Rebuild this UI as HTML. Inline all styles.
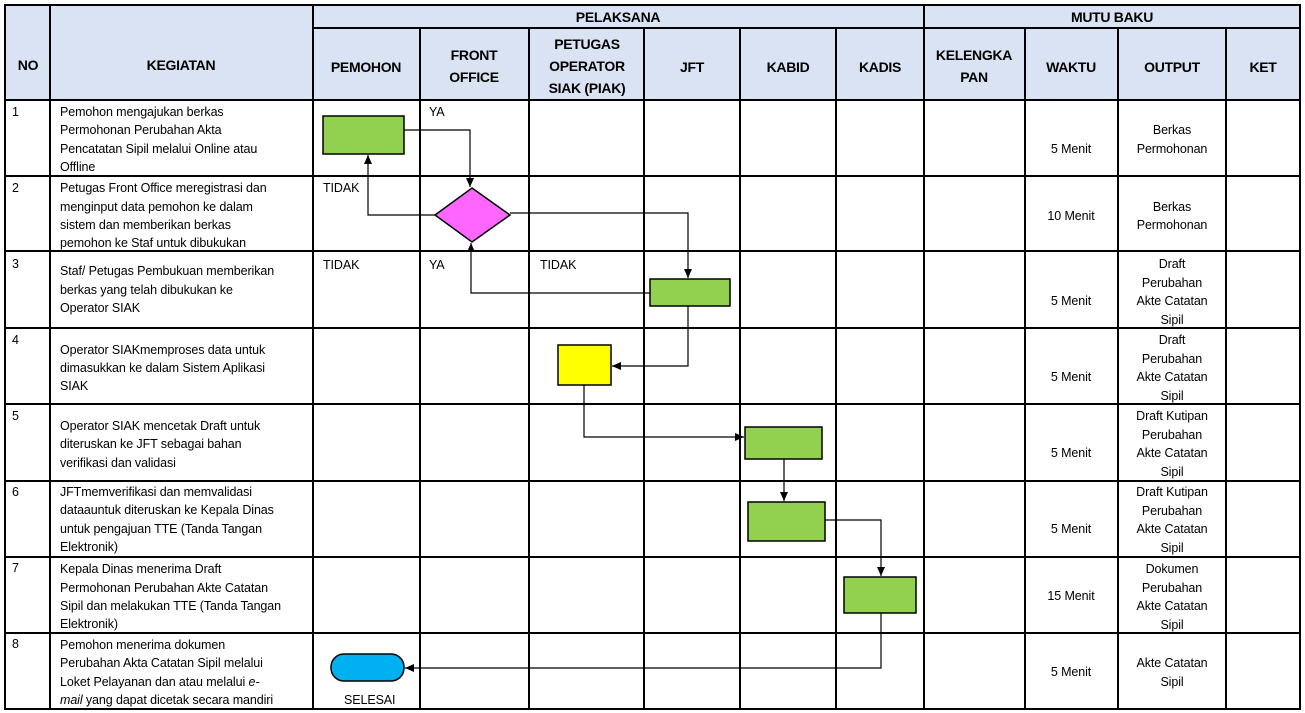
<!DOCTYPE html>
<html><head><meta charset="utf-8"><style>
html,body{margin:0;padding:0;background:#fff;}
svg{display:block;font-family:"Liberation Sans",sans-serif;}
.t{font-size:12.5px;fill:#000;letter-spacing:-0.1px;}
.h{font-size:14px;font-weight:bold;fill:#000;text-anchor:middle;letter-spacing:-0.3px;}
.c{text-anchor:middle;}
</style></head><body>
<svg width="1305" height="713" viewBox="0 0 1305 713" xmlns="http://www.w3.org/2000/svg">
<defs><marker id="a" markerWidth="10" markerHeight="10" refX="9" refY="5" orient="auto" markerUnits="userSpaceOnUse"><path d="M0,1 L9,5 L0,9 z" fill="#000"/></marker></defs>
<rect x="5" y="5" width="1295" height="95" fill="#dae3f3"/>
<g stroke="#000" stroke-width="2" fill="none">
<rect x="5" y="5" width="1295" height="704"/>
<line x1="313" y1="28" x2="1300" y2="28"/>
<g>
<line x1="50" y1="5" x2="50" y2="709"/><line x1="313" y1="5" x2="313" y2="709"/>
<line x1="420" y1="28" x2="420" y2="709"/><line x1="529" y1="28" x2="529" y2="709"/>
<line x1="644" y1="28" x2="644" y2="709"/><line x1="740" y1="28" x2="740" y2="709"/>
<line x1="836" y1="28" x2="836" y2="709"/><line x1="924" y1="5" x2="924" y2="709"/>
<line x1="1025" y1="28" x2="1025" y2="709"/><line x1="1118" y1="28" x2="1118" y2="709"/>
<line x1="1226" y1="28" x2="1226" y2="709"/>
</g>
<line x1="5" y1="100" x2="1300" y2="100"/><line x1="5" y1="176" x2="1300" y2="176"/>
<line x1="5" y1="251" x2="1300" y2="251"/><line x1="5" y1="328" x2="1300" y2="328"/>
<line x1="5" y1="404" x2="1300" y2="404"/><line x1="5" y1="481" x2="1300" y2="481"/>
<line x1="5" y1="557" x2="1300" y2="557"/><line x1="5" y1="633" x2="1300" y2="633"/>
</g>
<text class="h" x="618" y="22">PELAKSANA</text>
<text class="h" x="1112" y="22">MUTU BAKU</text>
<text class="h" x="28" y="70">NO</text>
<text class="h" x="181" y="70">KEGIATAN</text>
<text class="h" x="366" y="72">PEMOHON</text>
<text class="h" x="474" y="60">FRONT</text><text class="h" x="474" y="82">OFFICE</text>
<text class="h" x="587" y="49">PETUGAS</text><text class="h" x="587" y="71">OPERATOR</text><text class="h" x="587" y="93">SIAK (PIAK)</text>
<text class="h" x="692" y="72">JFT</text>
<text class="h" x="788" y="72">KABID</text>
<text class="h" x="880" y="72">KADIS</text>
<text class="h" x="974" y="60">KELENGKA</text><text class="h" x="974" y="82">PAN</text>
<text class="h" x="1071" y="72">WAKTU</text>
<text class="h" x="1172" y="72">OUTPUT</text>
<text class="h" x="1263" y="72">KET</text>
<g class="t">
<text x="12" y="116">1</text><text x="12" y="192">2</text><text x="12" y="268">3</text><text x="12" y="344">4</text>
<text x="12" y="420">5</text><text x="12" y="496">6</text><text x="12" y="572">7</text><text x="12" y="648">8</text>
<text x="60" y="116">Pemohon mengajukan berkas</text><text x="60" y="134">Permohonan Perubahan Akta</text><text x="60" y="153">Pencatatan Sipil melalui Online atau</text><text x="60" y="171">Offline</text>
<text x="60" y="192">Petugas Front Office meregistrasi dan</text><text x="60" y="211">menginput data pemohon ke dalam</text><text x="60" y="229">sistem dan memberikan berkas</text><text x="60" y="247">pemohon ke Staf untuk dibukukan</text>
<text x="60" y="275">Staf/ Petugas Pembukuan memberikan</text><text x="60" y="294">berkas yang telah dibukukan ke</text><text x="60" y="312">Operator SIAK</text>
<text x="60" y="354">Operator SIAKmemproses data untuk</text><text x="60" y="372">dimasukkan ke dalam Sistem Aplikasi</text><text x="60" y="390">SIAK</text>
<text x="60" y="430">Operator SIAK mencetak Draft untuk</text><text x="60" y="448">diteruskan ke JFT sebagai bahan</text><text x="60" y="467">verifikasi dan validasi</text>
<text x="60" y="496">JFTmemverifikasi dan memvalidasi</text><text x="60" y="514">dataauntuk diteruskan ke Kepala Dinas</text><text x="60" y="533">untuk pengajuan TTE (Tanda Tangan</text><text x="60" y="551">Elektronik)</text>
<text x="60" y="573">Kepala Dinas menerima Draft</text><text x="60" y="592">Permohonan Perubahan Akte Catatan</text><text x="60" y="610">Sipil dan melakukan TTE (Tanda Tangan</text><text x="60" y="628">Elektronik)</text>
<text x="60" y="649">Pemohon menerima dokumen</text><text x="60" y="667">Perubahan Akta Catatan Sipil melalui</text><text x="60" y="686">Loket Pelayanan dan atau melalui <tspan font-style="italic">e-</tspan></text><text x="60" y="704"><tspan font-style="italic">mail</tspan> yang dapat dicetak secara mandiri</text>
<text x="429" y="116">YA</text>
<text x="323" y="192">TIDAK</text><text x="323" y="269">TIDAK</text><text x="429" y="269">YA</text><text x="540" y="269">TIDAK</text>
<text x="344" y="704">SELESAI</text>
</g>
<g class="t c">
<text x="1071" y="153">5 Menit</text><text x="1071" y="220">10 Menit</text><text x="1071" y="305">5 Menit</text><text x="1071" y="381">5 Menit</text>
<text x="1071" y="457">5 Menit</text><text x="1071" y="533">5 Menit</text><text x="1071" y="600">15 Menit</text><text x="1071" y="676">5 Menit</text>
<text x="1172" y="134">Berkas</text><text x="1172" y="153">Permohonan</text>
<text x="1172" y="211">Berkas</text><text x="1172" y="229">Permohonan</text>
<text x="1172" y="268">Draft</text><text x="1172" y="287">Perubahan</text><text x="1172" y="305">Akte Catatan</text><text x="1172" y="324">Sipil</text>
<text x="1172" y="344">Draft</text><text x="1172" y="363">Perubahan</text><text x="1172" y="381">Akte Catatan</text><text x="1172" y="400">Sipil</text>
<text x="1172" y="420">Draft Kutipan</text><text x="1172" y="439">Perubahan</text><text x="1172" y="457">Akte Catatan</text><text x="1172" y="476">Sipil</text>
<text x="1172" y="496">Draft Kutipan</text><text x="1172" y="515">Perubahan</text><text x="1172" y="533">Akte Catatan</text><text x="1172" y="552">Sipil</text>
<text x="1172" y="573">Dokumen</text><text x="1172" y="592">Perubahan</text><text x="1172" y="610">Akte Catatan</text><text x="1172" y="629">Sipil</text>
<text x="1172" y="667">Akte Catatan</text><text x="1172" y="686">Sipil</text>
</g>
<g stroke="#000" stroke-width="1.5">
<rect x="323" y="116" width="81" height="38" fill="#92d050"/>
<polygon points="472,188 510,215 472,242 435,215" fill="#ff66ff"/>
<rect x="650" y="279" width="80" height="27" fill="#92d050"/>
<rect x="558" y="345" width="53" height="40" fill="#ffff00"/>
<rect x="745" y="427" width="77" height="32" fill="#92d050"/>
<rect x="748" y="502" width="77" height="39" fill="#92d050"/>
<rect x="844" y="577" width="72" height="36" fill="#92d050"/>
<rect x="331" y="654" width="73" height="27" rx="13" fill="#00b0f0"/>
</g>
<g stroke="#000" stroke-width="1.2" fill="none" marker-end="url(#a)">
<polyline points="404,130 470,130 470,187"/>
<polyline points="435,215 368,215 368,155"/>
<polyline points="510,213 688,213 688,278"/>
<polyline points="650,293 471,293 471,243"/>
<polyline points="688,306 688,366 612,366"/>
<polyline points="584,385 584,437 744,437"/>
<polyline points="784,459 784,501"/>
<polyline points="825,520 881,520 881,576"/>
<polyline points="881,613 881,668 405,668"/>
</g>
</svg>
</body></html>
